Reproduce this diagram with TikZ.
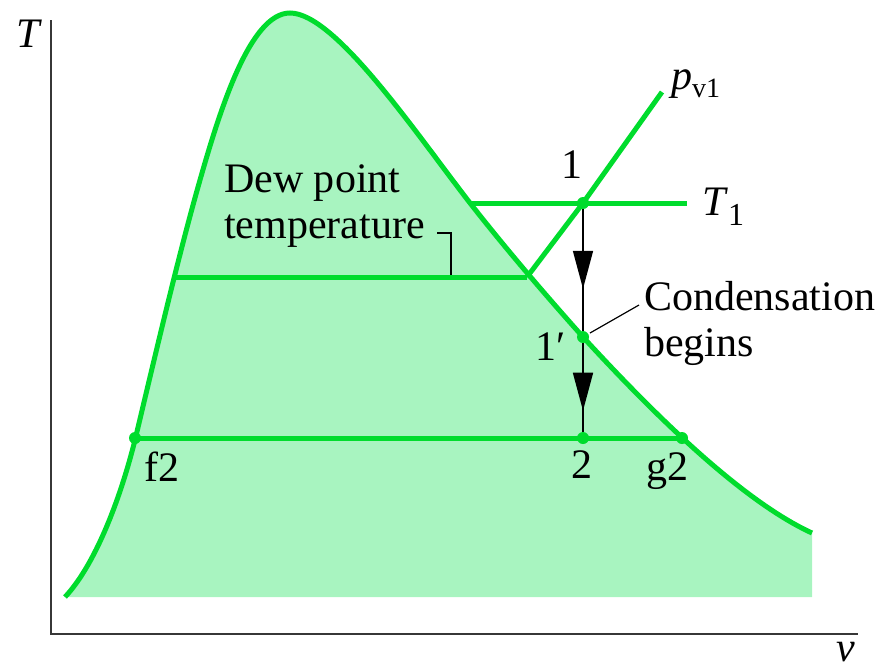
\documentclass[tikz,border=0pt]{standalone}
\usepackage{fontspec}
\setmainfont{Liberation Serif}
\usetikzlibrary{arrows.meta,decorations.markings}
\definecolor{dome}{RGB}{0,220,45}
\definecolor{domefill}{RGB}{168,244,192}
\definecolor{axiscol}{RGB}{55,55,55}
\begin{document}
\begin{tikzpicture}[x=1pt,y=-1pt,
  gline/.style={draw=dome,line width=5pt},
  dotmark/.style={circle,fill=dome,inner sep=0pt,minimum size=12pt},
  lbl/.style={font=\fontsize{42}{46}\selectfont,inner sep=0pt},
  leader/.style={draw=black,line width=1.2pt},
  procline/.style={draw=black,line width=1.6pt},
  tipmark/.style={postaction={decorate},decoration={markings,
     mark=at position #1 with {\arrow{Triangle[length=38pt,width=20pt]}}}}
]
\useasboundingbox (0,0) rectangle (885,670);
% axes
\coordinate (orig) at (51,634);
\coordinate (ytop) at (51,20);
\coordinate (xend) at (858,634);
\draw[axiscol,line width=2.5pt] (ytop) -- (orig) -- (xend);
\node[lbl,font=\fontsize{42}{46}\selectfont\itshape,anchor=base] (Tlab) at (28,47) {T};
\node[lbl,font=\fontsize{42}{46}\selectfont\itshape,anchor=base] (vlab) at (846,661) {v};
% dome
\def\domepath{(65,597) .. controls (95,565) and (120,500) .. (135,440)
  .. controls (160,335) and (180,250) .. (200,180)
  .. controls (220,110) and (250,13) .. (290,13)
  .. controls (335,13) and (415,132) .. (470,203)
  .. controls (510,254) and (550,300) .. (583,337)
  .. controls (650,410) and (740,500) .. (812,533)}
\path[fill=domefill] \domepath -- (812,597) -- (65,597) -- cycle;
\draw[gline] \domepath;
% key points
\coordinate (dl) at (176,277);
\coordinate (dr) at (527,277);
\coordinate (t1s) at (470,203);
\coordinate (p1) at (583,203);
\coordinate (t1e) at (687,203);
\coordinate (pe) at (662,92);
\coordinate (p1p) at (583,337);
\coordinate (p2) at (583,438);
\coordinate (f2) at (135,438);
\coordinate (g2) at (682,438);
% green lines
\draw[gline] (dl) -- (dr);
\draw[gline] (dr) -- (p1) -- (pe);
\draw[gline] (t1s) -- (t1e);
\draw[gline] (f2) -- (g2);
% process line
\draw[procline,tipmark=0.64] (p1) -- (p1p);
\draw[procline,tipmark=0.73] (p1p) -- (p2);
% dots
\foreach \p in {p1,p1p,p2,f2,g2} \node[dotmark] at (\p) {};
% leaders
\coordinate (cl1) at (590,333);
\coordinate (cl2) at (639,305);
\draw[leader] (cl1) -- (cl2);
\coordinate (dw1) at (437,233);
\coordinate (dw2) at (451,233);
\coordinate (dw3) at (451,275);
\draw[leader] (dw1) -- (dw2) -- (dw3);
% labels
\node[lbl,anchor=base] (l1) at (572,178) {1};
\node[lbl,anchor=base] (l1p) at (551,360) {1\char"2032};
\node[lbl,anchor=base] (l2) at (582,478) {2};
\node[lbl,anchor=base] (lf2) at (162,481) {f2};
\node[lbl,anchor=base] (lg2) at (667,480) {g2};
\node[lbl,anchor=base west] (lT1) at (702,215) {\textit{T}\raisebox{-10pt}{\fontsize{32}{34}\selectfont 1}};
\node[lbl,anchor=base west] (lpv) at (671,89) {\textit{p}\raisebox{-8pt}{\fontsize{28}{30}\selectfont v1}};
\node[lbl,anchor=north west,align=left] (lcond) at (644,281) {Condensation\\begins};
\node[lbl,anchor=north west,align=left] (ldew) at (224,164) {Dew point\\temperature};
\end{tikzpicture}
\end{document}
